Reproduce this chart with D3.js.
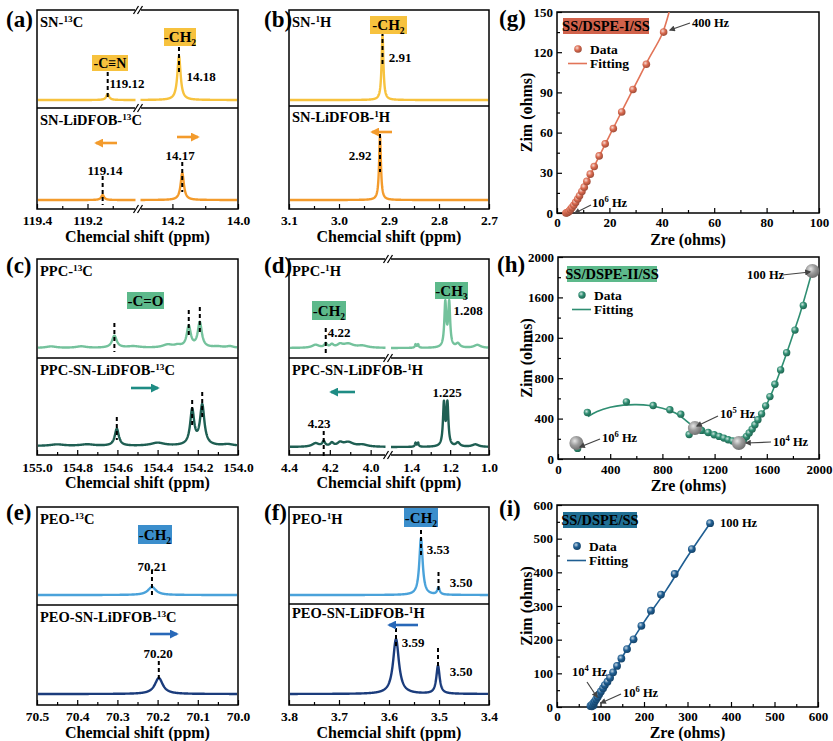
<!DOCTYPE html>
<html><head><meta charset="utf-8">
<script src="https://cdnjs.cloudflare.com/ajax/libs/d3/7.8.5/d3.min.js"></script>
<style>
body{margin:0;background:#fff}
svg{display:block;font-family:"Liberation Serif","Times New Roman",serif;font-weight:bold}
</style></head>
<body><svg id="c" width="833" height="741" font-family="Liberation Serif, Times New Roman, serif" font-weight="bold"></svg>
<script>
// ================= DATA =================
// NMR peaks: [ppm, intensity (a.u.), half-width (ppm)]
const aTopPeaks = [[119.12, 6, 0.007], [14.18, 44, 0.006]];
const aBotPeaks = [[119.14, 5, 0.007], [14.17, 27, 0.006]];
const aTopMarks = [[119.12, 28, 0], [14.18, 53, 25]];
const aBotMarks = [[119.14, 24, -5], [14.17, 38, 8]];
const aTicksL = [119.4, 119.2], aTicksR = [14.2, 14.0];

const bTopPeaks = [[2.913, 65, 0.0022]];
const bBotPeaks = [[2.918, 64, 0.0022]];
const bTopMarks = [[2.913, 68, 36]];
const bBotMarks = [[2.918, 66, 28]];
const bTicks = [3.1, 3.0, 2.9, 2.8, 2.7];

const cTopPeaks = [[154.615, 12, 0.014], [154.245, 21, 0.012], [154.19, 25, 0.012],
  [154.93, 1.5, 0.03], [154.78, 1.5, 0.03], [154.52, 1.5, 0.04], [154.35, 3, 0.03],
  [154.30, 2, 0.02], [154.10, 1.2, 0.03], [154.04, 1.5, 0.02]];
const cBotPeaks = [[154.603, 17, 0.012], [154.228, 35, 0.012], [154.178, 40, 0.013],
  [154.40, 3, 0.04], [154.90, 1.5, 0.04], [154.75, 1.5, 0.04], [154.05, 1.5, 0.03]];
const cTopMarks = [[154.615, 25, -4], [154.245, 38, 10], [154.19, 41, 13]];
const cBotMarks = [[154.603, 29, 6], [154.228, 46, 18], [154.178, 54, 26]];
const cTicks = [155.0, 154.8, 154.6, 154.4, 154.2, 154.0];

const dTopPeaks = [[4.27, 3, 0.02], [4.22, 4, 0.008], [4.19, 3, 0.01], [4.15, 3, 0.015],
  [4.11, 4, 0.03], [4.04, 2, 0.03], [1.378, 3.5, 0.004], [1.365, 3.5, 0.004],
  [1.225, 44, 0.006], [1.205, 44, 0.006], [1.16, 4, 0.012], [1.06, 3, 0.02]];
const dBotPeaks = [[4.27, 3.5, 0.02], [4.23, 5, 0.008], [4.19, 3.5, 0.01], [4.15, 3.5, 0.015],
  [4.11, 4.5, 0.03], [4.04, 2, 0.03], [1.378, 4, 0.004], [1.365, 4, 0.004],
  [1.232, 42, 0.006], [1.214, 42, 0.006], [1.16, 4, 0.012], [1.07, 2.5, 0.02]];
const dTopMarks = [[4.22, 20, -5]];
const dBotMarks = [[4.23, 16, -9]];
const dTicksL = [4.4, 4.2, 4.0], dTicksR = [1.4, 1.2, 1.0];

const eTopPeaks = [[70.214, 8, 0.012]];
const eBotPeaks = [[70.197, 16, 0.012]];
const eTopMarks = [[70.214, 25, -3]];
const eBotMarks = [[70.197, 33, 13]];
const eTicks = [70.5, 70.4, 70.3, 70.2, 70.1, 70.0];

const fTopPeaks = [[3.536, 57, 0.004], [3.501, 7, 0.003]];
const fBotPeaks = [[3.586, 55, 0.007], [3.502, 28, 0.004]];
const fTopMarks = [[3.536, 65, 38], [3.501, 23, 3]];
const fBotMarks = [[3.586, 66, 46], [3.502, 46, 26]];
const fTicks = [3.8, 3.7, 3.6, 3.5, 3.4];

// EIS data [Zre, Zim]
const gData = [[3.4,0],[3.8,0.1],[4.2,0.5],[4.6,1.2],[5.1,2.5],[5.7,4],[6.4,5.7],[7.1,7.9],[7.9,10.4],
  [8.6,12.9],[9.5,16.1],[10.4,19.3],[11.4,23.6],[12.7,29],[14.2,34.7],[16.1,42.6],[18.4,51.6],
  [21.5,63],[24.7,75.4],[29.0,92.2],[34.1,111],[40.7,135]];
const gFit = [[3.3,0],[4.5,1.2],[6,4.2],[8,10.5],[10,17.5],[12,25.5],[15,38],[20,57.5],[25,77],
  [30,96],[35,115],[40,133],[42.8,150]];
const gXTicks = [0,20,40,60,80,100], gYTicks = [0,30,60,90,120,150];

const hData = [[150,105],[225,460],[524,566],[729,530],[857,487],[941,444],[1005,243],[1100,283],
  [1151,263],[1197,240],[1235,224],[1271,207],[1304,191],[1338,178],[1368,164],[1407,171],
  [1425,197],[1445,224],[1465,257],[1488,296],[1509,339],[1532,388],[1560,447],[1591,526],
  [1624,618],[1662,740],[1706,882],[1752,1053],[1816,1276],[1880,1520]];
const hFit = [[230,420],[300,470],[400,512],[500,533],[600,538],[700,530],[800,503],[900,455],
  [1000,360],[1050,300],[1100,268],[1200,225],[1300,185],[1370,152],[1420,180],[1480,270],
  [1550,410],[1600,540],[1650,690],[1700,860],[1750,1040],[1800,1230],[1850,1420],[1900,1640],[1950,1870]];
const hMarks = [[141,158],[1049,306],[1386,158],[1949,1862]];
const hXTicks = [0,400,800,1200,1600,2000], hYTicks = [0,400,800,1200,1600,2000];

const iData = [[80,2],[84,5],[77,3],[80.5,7],[84,12],[87,17],[90,23],[93.5,30],[97,38],[101,46],
  [106,56],[110,65],[116,75],[122,87],[129,103],[138,122],[148,144],[161,172],[176,201],
  [194,241],[216,286],[239,334],[270.5,395],[310,469],[352,546]];
const iFit = [[78,0],[85,12],[95,32],[110,62],[130,104],[160,170],[200,252],[250,345],[300,447],[352,546]];
const iXTicks = [0,100,200,300,400,500,600], iYTicks = [0,100,200,300,400,500,600];

// ================= DRAWING =================
const svg = d3.select('#c');
const defs = svg.append('defs');

function sphereGrad(id, color) {
  const g = defs.append('radialGradient').attr('id', id).attr('cx','38%').attr('cy','35%').attr('r','65%');
  g.append('stop').attr('offset','0%').attr('stop-color', d3.interpolateRgb(color,'#fff')(0.75));
  g.append('stop').attr('offset','50%').attr('stop-color', color);
  g.append('stop').attr('offset','100%').attr('stop-color', d3.color(color).darker(0.9));
}
sphereGrad('sg', '#DB6A4F');
sphereGrad('sh', '#2F8E72');
sphereGrad('si', '#1F5E92');
sphereGrad('sgray', '#9C9C9C');

function arrowMarker(id, color, w, h) {
  defs.append('marker').attr('id', id).attr('viewBox','0 0 10 10').attr('refX',8).attr('refY',5)
    .attr('markerWidth', w).attr('markerHeight', h).attr('orient','auto').attr('markerUnits','userSpaceOnUse')
    .append('path').attr('d','M0,0 L10,5 L0,10 Z').attr('fill', color);
}
arrowMarker('amO', '#F39B2C', 9, 9);
arrowMarker('amT', '#1E8C84', 9, 9);
arrowMarker('amB', '#2868B8', 9, 9);
arrowMarker('amK', '#444', 7, 6);

function rich(sel, x, y, parts, size, anchor) {
  const t = sel.append('text').attr('x', x).attr('y', y).attr('font-size', size)
    .attr('text-anchor', anchor || 'start').attr('fill', '#000');
  let cur = 0;
  parts.forEach(p => {
    let s = p, shift = 0, fs = size;
    if (Array.isArray(p)) { s = p[0]; shift = p[1] === 'sup' ? -size * 0.36 : size * 0.28; fs = size * 0.64; }
    t.append('tspan').attr('dy', shift - cur).attr('font-size', fs).text(s);
    cur = shift;
  });
  return t;
}

function lor(peaks, v) { return d3.sum(peaks, p => p[1] / (1 + ((v - p[0]) / p[2]) ** 2)); }

function breakMark(g, x, y) {
  g.append('rect').attr('x', x - 3).attr('y', y - 2).attr('width', 6).attr('height', 4).attr('fill', '#fff');
  [-2, 2].forEach(dx => g.append('line').attr('x1', x + dx - 2.5).attr('y1', y + 4).attr('x2', x + dx + 2.5).attr('y2', y - 4)
    .attr('stroke', '#000').attr('stroke-width', 1.3));
}

function labelBox(g, x, y, w, h, fill, parts, fs) {
  g.append('rect').attr('x', x).attr('y', y).attr('width', w).attr('height', h).attr('fill', fill);
  rich(g, x + w / 2, y + h / 2 + 5, parts, fs || 15, 'middle');
}

function colorArrow(g, x1, x2, y, marker, color) {
  g.append('line').attr('x1', x1).attr('y1', y).attr('x2', x2).attr('y2', y)
    .attr('stroke', color).attr('stroke-width', 2.6).attr('marker-end', `url(#${marker})`);
}

function fixAxis(a, fs) {
  a.attr('font-family', null).attr('font-size', null);
  a.select('.domain').remove();
  a.selectAll('text').attr('font-size', fs).attr('fill', '#000');
  a.selectAll('line').attr('stroke', '#000').attr('stroke-width', 1.2);
}

function nmrPanel(cfg) {
  const g = svg.append('g');
  const subs = [
    { base: cfg.baseTop, peaks: cfg.topPeaks, marks: cfg.topMarks, color: cfg.topColor },
    { base: cfg.baseBot, peaks: cfg.botPeaks, marks: cfg.botMarks, color: cfg.botColor }
  ];
  cfg.segs.forEach(s => { s.x = d3.scaleLinear().domain(s.dom).range(s.px); });
  subs.forEach(sb => {
    const y = d3.scaleLinear().domain([0, 100]).range([sb.base, sb.base - 100]);
    cfg.segs.forEach(s => {
      const n = 900, pts = [];
      for (let i = 0; i <= n; i++) {
        const px = s.draw[0] + (s.draw[1] - s.draw[0]) * i / n;
        pts.push(s.x.invert(px));
      }
      g.append('path').datum(pts).attr('fill', 'none').attr('stroke', sb.color).attr('stroke-width', 2.4)
        .attr('stroke-linejoin', 'round')
        .attr('d', d3.line().x(v => s.x(v)).y(v => y(lor(sb.peaks, v))));
    });
    sb.marks.forEach(m => {
      const s = cfg.segs.find(s => (m[0] - s.dom[0]) * (m[0] - s.dom[1]) <= 0);
      g.append('line').attr('x1', s.x(m[0])).attr('x2', s.x(m[0])).attr('y1', y(m[1])).attr('y2', y(m[2]))
        .attr('stroke', '#000').attr('stroke-width', 2).attr('stroke-dasharray', '4,3');
    });
  });
  g.append('rect').attr('x', cfg.x0).attr('y', cfg.top).attr('width', cfg.x1 - cfg.x0).attr('height', cfg.bot - cfg.top)
    .attr('fill', 'none').attr('stroke', '#000').attr('stroke-width', 1.5);
  g.append('line').attr('x1', cfg.x0).attr('x2', cfg.x1).attr('y1', cfg.mid).attr('y2', cfg.mid)
    .attr('stroke', '#000').attr('stroke-width', 1.5);
  cfg.segs.forEach(s => {
    const ax = g.append('g').attr('transform', `translate(0,${cfg.bot})`)
      .call(d3.axisBottom(s.x).tickValues(s.ticks).tickSizeInner(-5).tickSizeOuter(0).tickPadding(cfg.pad)
        .tickFormat(d3.format('.1f')));
    fixAxis(ax, 13.5);
    if (s.minor) {
      const mx = g.append('g').attr('transform', `translate(0,${cfg.bot})`)
        .call(d3.axisBottom(s.x).tickValues(s.minor).tickSizeInner(-3).tickSizeOuter(0).tickFormat(''));
      fixAxis(mx, 13.5);
    }
  });
  if (cfg.brk) [cfg.top, cfg.mid, cfg.bot].forEach(yy => breakMark(g, cfg.brk, yy));
  g.append('text').attr('x', (cfg.x0 + cfg.x1) / 2).attr('y', cfg.titleY).attr('text-anchor', 'middle')
    .attr('font-size', 16).text('Chemcial shift (ppm)');
  g.append('text').attr('x', cfg.letterX).attr('y', cfg.letterY).attr('font-size', 23).text(cfg.letter);
  rich(g, cfg.x0 + 3, cfg.top + 17, cfg.topName, 14.5);
  rich(g, cfg.x0 + 3, cfg.mid + cfg.botNameDy, cfg.botName, 14.5);
  cfg.extra(g);
}

const YEL = '#F7C23E', ORA = '#F39B2C', LGR = '#74C29C', DGR = '#1F5F53', GBOX = '#5DB98B';
const LBL = '#4AA2DA', DBL = '#1B3C7C', BBOX = '#3B8ECC';

function num(g, x, y, s) {
  g.append('text').attr('x', x).attr('y', y).attr('text-anchor', 'middle').attr('font-size', 13).text(s);
}

// (a)
nmrPanel({
  letter: '(a)', letterX: 6, letterY: 27, x0: 37, x1: 238, top: 10, mid: 108, bot: 209, baseTop: 100, baseBot: 200,
  pad: 6, titleY: 242, brk: 138, botNameDy: 17,
  segs: [
    { dom: [119.4, 119.0], px: [37, 138], draw: [38, 135.5], ticks: aTicksL, minor: [119.3, 119.1] },
    { dom: [14.305, 14.0], px: [138, 238], draw: [140.5, 237], ticks: aTicksR, minor: [14.1] }],
  topPeaks: aTopPeaks, botPeaks: aBotPeaks, topMarks: aTopMarks, botMarks: aBotMarks,
  topColor: YEL, botColor: ORA,
  topName: ['SN-', ['13', 'sup'], 'C'], botName: ['SN-LiDFOB-', ['13', 'sup'], 'C'],
  extra: g => {
    labelBox(g, 92, 55, 36, 16, YEL, ['-C\u2261N'], 14);
    labelBox(g, 164, 28, 32, 18, YEL, ['-CH', ['2', 'sub']]);
    num(g, 127, 88, '119.12');
    num(g, 201, 81, '14.18');
    num(g, 105, 175, '119.14');
    num(g, 180, 160, '14.17');
    colorArrow(g, 117, 96, 143, 'amO', ORA);
    colorArrow(g, 177, 198, 137, 'amO', ORA);
  }
});

// (b)
nmrPanel({
  letter: '(b)', letterX: 264, letterY: 27, x0: 289, x1: 489, top: 10, mid: 106, bot: 209, baseTop: 100, baseBot: 200,
  pad: 6, titleY: 242, botNameDy: 16,
  segs: [{ dom: [3.1, 2.7], px: [289, 489], draw: [290, 488], ticks: bTicks, minor: [3.05, 2.95, 2.85, 2.75] }],
  topPeaks: bTopPeaks, botPeaks: bBotPeaks, topMarks: bTopMarks, botMarks: bBotMarks,
  topColor: YEL, botColor: ORA,
  topName: ['SN-', ['1', 'sup'], 'H'], botName: ['SN-LiDFOB-', ['1', 'sup'], 'H'],
  extra: g => {
    labelBox(g, 370, 16, 37, 18, YEL, ['-CH', ['2', 'sub']]);
    num(g, 400, 62, '2.91');
    num(g, 360, 160, '2.92');
    colorArrow(g, 392, 372, 132, 'amO', ORA);
  }
});

// (c)
nmrPanel({
  letter: '(c)', letterX: 6, letterY: 273, x0: 37, x1: 238, top: 259, mid: 358, bot: 455, baseTop: 348, baseBot: 446,
  pad: 7, titleY: 488, botNameDy: 17,
  segs: [{ dom: [155.0, 154.0], px: [37, 238], draw: [38, 237], ticks: cTicks, minor: [154.9, 154.7, 154.5, 154.3, 154.1] }],
  topPeaks: cTopPeaks, botPeaks: cBotPeaks, topMarks: cTopMarks, botMarks: cBotMarks,
  topColor: LGR, botColor: DGR,
  topName: ['PPC-', ['13', 'sup'], 'C'], botName: ['PPC-SN-LiDFOB-', ['13', 'sup'], 'C'],
  extra: g => {
    labelBox(g, 127, 292, 37, 17, GBOX, ['-C=O']);
    colorArrow(g, 131, 158, 388, 'amT', '#1E8C84');
  }
});

// (d)
nmrPanel({
  letter: '(d)', letterX: 264, letterY: 273, x0: 289, x1: 489, top: 259, mid: 358, bot: 455, baseTop: 348, baseBot: 447,
  pad: 7, titleY: 488, brk: 388, botNameDy: 17,
  segs: [
    { dom: [4.4, 3.915], px: [289, 388], draw: [290, 385.5], ticks: dTicksL, minor: [4.3, 4.1] },
    { dom: [1.52, 1.0], px: [388, 489], draw: [391, 488], ticks: dTicksR, minor: [1.3, 1.1] }],
  topPeaks: dTopPeaks, botPeaks: dBotPeaks, topMarks: dTopMarks, botMarks: dBotMarks,
  topColor: LGR, botColor: DGR,
  topName: ['PPC-', ['1', 'sup'], 'H'], botName: ['PPC-SN-LiDFOB-', ['1', 'sup'], 'H'],
  extra: g => {
    labelBox(g, 312, 301, 34, 19, GBOX, ['-CH', ['2', 'sub']]);
    labelBox(g, 435, 282, 33, 17, GBOX, ['-CH', ['3', 'sub']]);
    num(g, 339, 337, '4.22');
    num(g, 468, 315, '1.208');
    num(g, 447, 397, '1.225');
    num(g, 319, 428, '4.23');
    colorArrow(g, 355, 331, 392, 'amT', '#1E8C84');
  }
});

// (e)
nmrPanel({
  letter: '(e)', letterX: 6, letterY: 520, x0: 37, x1: 238, top: 507, mid: 605, bot: 705, baseTop: 595, baseBot: 694,
  pad: 6, titleY: 738, botNameDy: 17,
  segs: [{ dom: [70.5, 70.0], px: [37, 238], draw: [38, 237], ticks: eTicks, minor: [70.45, 70.35, 70.25, 70.15, 70.05] }],
  topPeaks: eTopPeaks, botPeaks: eBotPeaks, topMarks: eTopMarks, botMarks: eBotMarks,
  topColor: LBL, botColor: DBL,
  topName: ['PEO-', ['13', 'sup'], 'C'], botName: ['PEO-SN-LiDFOB-', ['13', 'sup'], 'C'],
  extra: g => {
    labelBox(g, 138, 525, 34, 19, BBOX, ['-CH', ['2', 'sub']]);
    num(g, 152, 571, '70.21');
    num(g, 158, 658, '70.20');
    colorArrow(g, 150, 177, 634, 'amB', '#2868B8');
  }
});

// (f)
nmrPanel({
  letter: '(f)', letterX: 264, letterY: 520, x0: 289, x1: 489, top: 507, mid: 604, bot: 705, baseTop: 595, baseBot: 694,
  pad: 6, titleY: 738, botNameDy: 14,
  segs: [{ dom: [3.8, 3.4], px: [289, 489], draw: [290, 488], ticks: fTicks, minor: [3.75, 3.65, 3.55, 3.45] }],
  topPeaks: fTopPeaks, botPeaks: fBotPeaks, topMarks: fTopMarks, botMarks: fBotMarks,
  topColor: LBL, botColor: DBL,
  topName: ['PEO-', ['1', 'sup'], 'H'], botName: ['PEO-SN-LiDFOB-', ['1', 'sup'], 'H'],
  extra: g => {
    labelBox(g, 404, 508, 34, 19, BBOX, ['-CH', ['2', 'sub']]);
    num(g, 438, 554, '3.53');
    num(g, 461, 587, '3.50');
    num(g, 413, 647, '3.59');
    num(g, 461, 676, '3.50');
    colorArrow(g, 418, 389, 625, 'amB', '#2868B8');
  }
});

// ---------- EIS panels ----------
let clipN = 0;
function eisPanel(cfg) {
  const g = svg.append('g');
  const x = d3.scaleLinear().domain(cfg.xdom).range([cfg.x0, cfg.x1]);
  const y = d3.scaleLinear().domain(cfg.ydom).range([cfg.bot, cfg.top]);
  const cid = 'clip' + (clipN++);
  defs.append('clipPath').attr('id', cid).append('rect').attr('x', cfg.x0).attr('y', cfg.top)
    .attr('width', cfg.x1 - cfg.x0).attr('height', cfg.bot - cfg.top);
  const fmt = d3.format('d');
  const xa = g.append('g').attr('transform', `translate(0,${cfg.bot})`)
    .call(d3.axisBottom(x).tickValues(cfg.xticks).tickSizeInner(-5).tickSizeOuter(0).tickPadding(cfg.pad).tickFormat(fmt));
  const xm = [];
  for (let i = 0; i < cfg.xticks.length - 1; i++) xm.push((cfg.xticks[i] + cfg.xticks[i + 1]) / 2);
  const xma = g.append('g').attr('transform', `translate(0,${cfg.bot})`)
    .call(d3.axisBottom(x).tickValues(xm).tickSizeInner(-3).tickSizeOuter(0).tickFormat(''));
  const ya = g.append('g').attr('transform', `translate(${cfg.x0},0)`)
    .call(d3.axisLeft(y).tickValues(cfg.yticks).tickSizeInner(-5).tickSizeOuter(0).tickPadding(4).tickFormat(fmt));
  const ym = [];
  for (let i = 0; i < cfg.yticks.length - 1; i++) ym.push((cfg.yticks[i] + cfg.yticks[i + 1]) / 2);
  const yma = g.append('g').attr('transform', `translate(${cfg.x0},0)`)
    .call(d3.axisLeft(y).tickValues(ym).tickSizeInner(-3).tickSizeOuter(0).tickFormat(''));
  [xa, xma, ya, yma].forEach(a => fixAxis(a, 13));
  g.append('rect').attr('x', cfg.x0).attr('y', cfg.top).attr('width', cfg.x1 - cfg.x0).attr('height', cfg.bot - cfg.top)
    .attr('fill', 'none').attr('stroke', '#000').attr('stroke-width', 1.5);
  g.append('path').datum(cfg.fit).attr('clip-path', `url(#${cid})`).attr('fill', 'none')
    .attr('stroke', cfg.lineColor).attr('stroke-width', 1.6)
    .attr('d', d3.line().x(d => x(d[0])).y(d => y(d[1])).curve(d3.curveCatmullRom));
  g.append('g').selectAll('circle').data(cfg.data).join('circle')
    .attr('cx', d => x(d[0])).attr('cy', d => y(d[1])).attr('r', cfg.r).attr('fill', `url(#${cfg.grad})`);
  if (cfg.marks) g.append('g').selectAll('circle').data(cfg.marks).join('circle')
    .attr('cx', d => x(d[0])).attr('cy', d => y(d[1])).attr('r', 7).attr('fill', 'url(#sgray)');
  g.append('text').attr('x', (cfg.x0 + cfg.x1) / 2).attr('y', cfg.titleY).attr('text-anchor', 'middle')
    .attr('font-size', 16).text('Zre (ohms)');
  g.append('text').attr('transform', `translate(532,${(cfg.top + cfg.bot) / 2}) rotate(-90)`)
    .attr('text-anchor', 'middle').attr('font-size', 16).text('Zim (ohms)');
  g.append('text').attr('x', cfg.letterX).attr('y', cfg.letterY).attr('font-size', 23).text(cfg.letter);
  g.append('rect').attr('x', cfg.box[0]).attr('y', cfg.box[1]).attr('width', cfg.box[2]).attr('height', cfg.box[3])
    .attr('fill', cfg.boxFill);
  g.append('text').attr('x', cfg.box[0] + cfg.box[2] / 2).attr('y', cfg.box[1] + cfg.box[3] / 2 + 5)
    .attr('text-anchor', 'middle').attr('font-size', 14.5).text(cfg.name);
  const lx = cfg.leg[0], ly = cfg.leg[1];
  g.append('circle').attr('cx', lx + 10).attr('cy', ly).attr('r', cfg.r).attr('fill', `url(#${cfg.grad})`);
  g.append('text').attr('x', lx + 22).attr('y', ly + 4.5).attr('font-size', 13.5).text('Data');
  g.append('line').attr('x1', lx).attr('x2', lx + 19).attr('y1', ly + 14.5).attr('y2', ly + 14.5)
    .attr('stroke', cfg.lineColor).attr('stroke-width', 1.6);
  g.append('text').attr('x', lx + 22).attr('y', ly + 19).attr('font-size', 13.5).text('Fitting');
  cfg.extra(g, x, y);
}

function freqText(g, x, y, base, sup) {
  const t = g.append('text').attr('x', x).attr('y', y).attr('font-size', 12.5);
  t.append('tspan').text(base);
  if (sup) { t.append('tspan').attr('dy', -5).attr('font-size', 8.5).text(sup); t.append('tspan').attr('dy', 5).text(' Hz'); }
  else t.append('tspan').text(' Hz');
}
function kArrow(g, x1, y1, x2, y2) {
  g.append('line').attr('x1', x1).attr('y1', y1).attr('x2', x2).attr('y2', y2)
    .attr('stroke', '#444').attr('stroke-width', 1.2).attr('marker-end', 'url(#amK)');
}

eisPanel({
  letter: '(g)', letterX: 499, letterY: 26, x0: 557, x1: 819, top: 12, bot: 213, pad: 5, titleY: 245,
  xdom: [0, 100], ydom: [0, 150], xticks: gXTicks, yticks: gYTicks,
  data: gData, fit: gFit, grad: 'sg', r: 3.8, lineColor: '#E27458',
  box: [563, 18, 86, 16], boxFill: '#D1624B', name: 'SS/DSPE-I/SS', leg: [568, 49],
  extra: (g, x, y) => {
    freqText(g, 692, 27, '400');
    kArrow(g, 690, 23, 670, 30);
    freqText(g, 592, 207, '10', '6');
    kArrow(g, 591, 205, 575, 213);
  }
});

eisPanel({
  letter: '(h)', letterX: 497, letterY: 272, x0: 558, x1: 819, top: 257, bot: 459, pad: 6, titleY: 491,
  xdom: [0, 2000], ydom: [0, 2000], xticks: hXTicks, yticks: hYTicks,
  data: hData, fit: hFit, marks: hMarks, grad: 'sh', r: 3.7, lineColor: '#2F8E72',
  box: [567, 266, 90, 16], boxFill: '#5DB98B', name: 'SS/DSPE-II/SS', leg: [572, 295],
  extra: (g, x, y) => {
    freqText(g, 602, 442, '10', '6');
    kArrow(g, 600, 439, 580, 447);
    freqText(g, 720, 418, '10', '5');
    kArrow(g, 718, 416, 697, 426);
    freqText(g, 773, 446, '10', '4');
    kArrow(g, 771, 442, 746, 443);
    freqText(g, 747, 279, '100');
    kArrow(g, 782, 275, 810, 272);
  }
});

eisPanel({
  letter: '(i)', letterX: 499, letterY: 516, x0: 557, x1: 818, top: 505, bot: 707, pad: 5, titleY: 738,
  xdom: [0, 600], ydom: [0, 600], xticks: iXTicks, yticks: iYTicks,
  data: iData, fit: iFit, grad: 'si', r: 3.9, lineColor: '#1F5E92',
  box: [563, 512, 74, 16], boxFill: '#1F6E93', name: 'SS/DSPE/SS', leg: [567, 546],
  extra: (g, x, y) => {
    freqText(g, 720, 527, '100');
    freqText(g, 572, 676, '10', '4');
    kArrow(g, 587, 682, 597, 697);
    freqText(g, 623, 697, '10', '6');
    kArrow(g, 621, 694, 601, 703);
  }
});
</script></body></html>
